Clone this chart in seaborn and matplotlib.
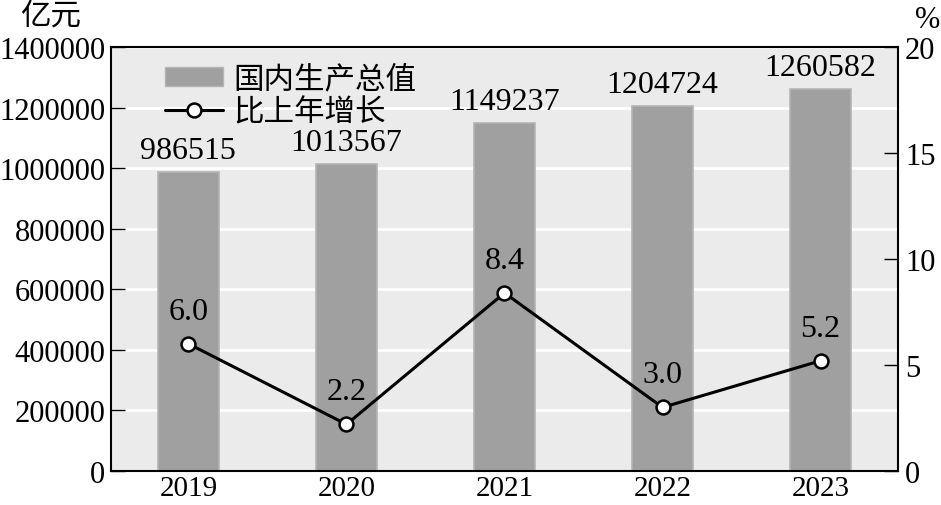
import numpy as np
import pandas as pd
import matplotlib
matplotlib.use("Agg")
import matplotlib.pyplot as plt
import seaborn as sns
from matplotlib.patches import Patch
from matplotlib.lines import Line2D

# data
years = ["2019", "2020", "2021", "2022", "2023"]
gdp = [986515, 1013567, 1149237, 1204724, 1260582]
growth = [6.0, 2.2, 8.4, 3.0, 5.2]
growth_labels = ["6.0", "2.2", "8.4", "3.0", "5.2"]
left_ticks = [0, 200000, 400000, 600000, 800000, 1000000, 1200000, 1400000]
right_ticks = [0, 5, 10, 15, 20]

df = pd.DataFrame({"year": years, "gdp": gdp, "growth": growth})

sns.set_style("white")
plt.rcParams["font.family"] = ["Liberation Serif", "Noto Sans CJK SC", "DejaVu Sans"]
plt.rcParams["text.color"] = "black"
plt.rcParams["xtick.color"] = "black"
plt.rcParams["ytick.color"] = "black"
plt.rcParams["axes.labelcolor"] = "black"
FS = 22

fig = plt.figure(figsize=(9.41, 5.06), dpi=100)
ax = fig.add_axes([111 / 941, 1 - 472 / 506, (898 - 111) / 941, (472 - 48) / 506])
ax.set_facecolor("#ebebeb")

sns.barplot(data=df, x="year", y="gdp", color="#a0a0a0", width=0.39,
            saturation=1, edgecolor="#b4b4b4", linewidth=1.2, ax=ax, zorder=2)
ax.bar_label(ax.containers[0], labels=[str(v) for v in gdp], padding=5, fontsize=23)

ax.set_ylim(0, 1400000)
ax.set_xlim(-0.49, 4.49)
ax.set_yticks(left_ticks)
ax.set_yticklabels([str(t) for t in left_ticks])
ax.grid(axis="y", color="white", linewidth=2, zorder=0)
ax.set_axisbelow(True)
ax.set_xlabel("")
ax.set_ylabel("")
ax.tick_params(axis="y", direction="in", length=10, width=1, labelsize=FS, pad=4)
ax.tick_params(axis="x", which="major", length=0, labelsize=21, pad=3)
ax.set_xticks([0.5, 1.5, 2.5, 3.5], minor=True)
ax.tick_params(axis="x", which="minor", direction="in", length=10, width=1.2)
for s in ax.spines.values():
    s.set_color("black")
    s.set_linewidth(1.5)

ax2 = ax.twinx()
sns.lineplot(data=df, x="year", y="growth", color="black", linewidth=2.2,
             marker="o", markersize=10, markerfacecolor="white",
             markeredgecolor="black", markeredgewidth=1.8, ax=ax2, zorder=3)
ax2.set_ylim(0, 20)
ax2.set_xlim(-0.49, 4.49)
ax2.set_yticks(right_ticks)
ax2.set_yticklabels([str(t) for t in right_ticks])
ax2.set_ylabel("")
ax2.tick_params(axis="y", direction="in", length=10, width=1, labelsize=FS, pad=5)
for i, (y, lab) in enumerate(zip(growth, growth_labels)):
    ax2.annotate(lab, (i, y), xytext=(0, 13), textcoords="offset points",
                 ha="center", va="bottom", fontsize=23)

ax2.grid(False)
for s in ax2.spines.values():
    s.set_visible(False)

fig.text(20 / 941, 1 - 17 / 506, "亿元", fontsize=FS, ha="left", va="center")
fig.text(940 / 941, 1 - 20 / 506, "%", fontsize=FS, ha="right", va="center")

handles = [Patch(facecolor="#a0a0a0", edgecolor="#b4b4b4"),
           Line2D([0], [0], color="black", linewidth=2.2, marker="o", markersize=10,
                  markerfacecolor="white", markeredgecolor="black", markeredgewidth=1.8)]
leg = ax.legend(handles, ["国内生产总值", "比上年增长"], loc="upper left",
                bbox_to_anchor=(0.045, 1.0), frameon=False, fontsize=FS,
                handlelength=1.9, handleheight=0.6, handletextpad=0.35,
                labelspacing=0.12, borderaxespad=0.2)
leg.set_zorder(5)

fig.savefig("out.png", dpi=100)
